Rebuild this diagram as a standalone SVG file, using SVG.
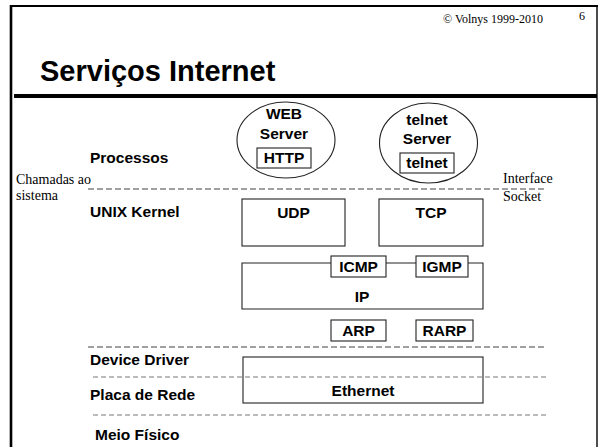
<svg xmlns="http://www.w3.org/2000/svg" width="600" height="447" viewBox="0 0 600 447">
<style>
.b{font-family:"Liberation Sans",Arial,sans-serif;font-weight:bold;font-size:15.5px;fill:#000}
.c{text-anchor:middle}
.t{font-family:"Liberation Serif","Times New Roman",serif;font-size:14px;fill:#000}
.box{fill:#fff;stroke:#222;stroke-width:1.1}
.dash{stroke:#444;stroke-width:1.1;stroke-dasharray:6 3;fill:none}
.fine{stroke:#555;stroke-width:0.8;stroke-dasharray:5 3;fill:none}
</style>
<rect width="600" height="447" fill="#fff"/>
<g id="frame" fill="none" stroke="#000">
<line x1="11" y1="5" x2="11" y2="447" stroke-width="2.6"/>
<line x1="10" y1="6" x2="598" y2="6" stroke-width="1.8"/>
<line x1="597" y1="5" x2="597" y2="447" stroke-width="1.4"/>
<line x1="14" y1="96" x2="597" y2="96" stroke-width="4"/>
</g>
<text x="443" y="23" class="t" style="font-size:12px">© Volnys 1999-2010</text>
<text x="579" y="20" class="t" style="font-size:12px">6</text>
<text x="40" y="81" class="b" style="font-size:29px">Serviços Internet</text>

<g id="connectors">
<line class="dash" x1="88" y1="189" x2="547" y2="189"/>
<line class="dash" x1="88" y1="347" x2="547" y2="347"/>
<line class="fine" x1="93" y1="377" x2="547" y2="377"/>
<line class="fine" x1="93" y1="415" x2="547" y2="415"/>
</g>

<g id="labels">
<text x="90" y="163" class="b">Processos</text>
<text x="16" y="184" class="t">Chamadas ao</text>
<text x="16" y="200" class="t">sistema</text>
<text x="503" y="183" class="t">Interface</text>
<text x="503" y="201" class="t">Socket</text>
<text x="90" y="217" class="b">UNIX Kernel</text>
<text x="90" y="365" class="b">Device Driver</text>
<text x="90" y="400" class="b">Placa de Rede</text>
<text x="95" y="440" class="b">Meio Físico</text>
</g>

<g id="web">
<ellipse cx="286" cy="140" rx="49" ry="38" class="box"/>
<text x="284" y="119" class="b c">WEB</text>
<text x="284" y="139" class="b c">Server</text>
<rect x="257" y="148" width="54" height="20" class="box"/>
<text x="284" y="163" class="b c">HTTP</text>
</g>

<g id="telnet">
<ellipse cx="428.5" cy="143" rx="49" ry="40" class="box"/>
<text x="427" y="125" class="b c">telnet</text>
<text x="427" y="144" class="b c">Server</text>
<rect x="400" y="153" width="54" height="20" class="box"/>
<text x="427" y="168" class="b c">telnet</text>
</g>

<g id="udp">
<rect x="242" y="199" width="103" height="47" class="box"/>
<text x="293.5" y="218" class="b c">UDP</text>
</g>
<g id="tcp">
<rect x="379" y="199" width="104" height="47" class="box"/>
<text x="431" y="218" class="b c">TCP</text>
</g>

<g id="ip">
<path d="M331,263 H242 V309 H483 V263 H468 M386,263 H416" class="box" fill="none"/>
<text x="362" y="302" class="b c">IP</text>
</g>
<g id="icmp">
<rect x="331" y="256" width="55" height="21" class="box"/>
<text x="358.5" y="272" class="b c">ICMP</text>
</g>
<g id="igmp">
<rect x="416" y="256" width="52" height="21" class="box"/>
<text x="442" y="272" class="b c">IGMP</text>
</g>
<g id="arp">
<rect x="331" y="320" width="55" height="21" class="box"/>
<text x="358.5" y="336" class="b c">ARP</text>
</g>
<g id="rarp">
<rect x="416" y="320" width="57" height="21" class="box"/>
<text x="444.5" y="336" class="b c">RARP</text>
</g>
<g id="ethernet">
<rect x="243" y="357" width="240" height="46" fill="none" stroke="#222" stroke-width="1.1"/>
<text x="363" y="396" class="b c">Ethernet</text>
</g>
</svg>
